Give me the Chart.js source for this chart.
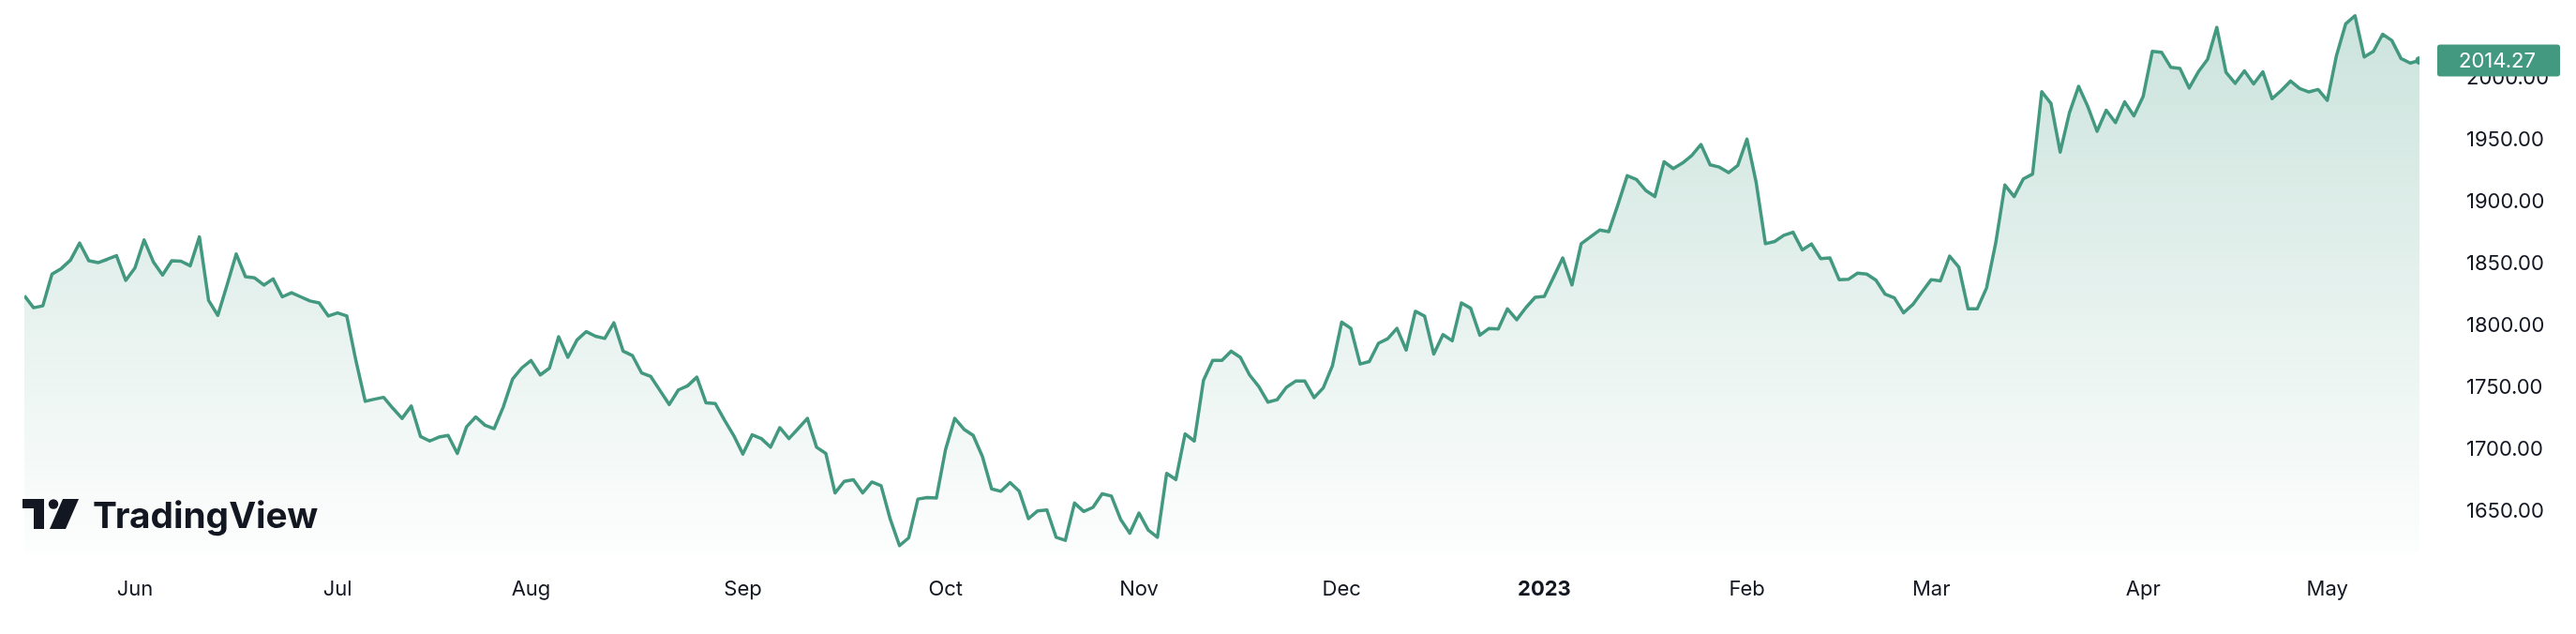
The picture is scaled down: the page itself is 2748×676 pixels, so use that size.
<!DOCTYPE html>
<html>
<head>
<meta charset="utf-8">
<title>Gold price chart</title>
<script src="https://cdn.jsdelivr.net/npm/chart.js@4.4.1/dist/chart.umd.min.js"></script>
<style>
    html, body { margin: 0; padding: 0; background: #ffffff; }
    #chart { display: block; }
</style>
</head>
<body>
<canvas id="chart" width="2748" height="676"></canvas>
<script>
// daily closes, one per trading day (16 May 2022 - 15 May 2023)
const prices = [
    1824.2, 1814.6, 1816.1, 1841.7, 1846.2, 1853.0, 1866.8, 1852.5, 1851.0, 1853.7,
    1856.7, 1836.7, 1846.7, 1869.3, 1851.7, 1841.0, 1852.5, 1852.2, 1848.5, 1871.8,
    1820.4, 1808.4, 1832.9, 1858.0, 1839.7, 1838.7, 1832.9, 1837.9, 1823.4, 1826.7,
    1823.4, 1820.1, 1818.4, 1807.9, 1810.4, 1807.9, 1771.5, 1739.0, 1740.7, 1742.2,
    1733.4, 1725.2, 1735.2, 1710.6, 1706.9, 1710.1, 1711.4, 1696.9, 1718.4, 1726.4,
    1719.7, 1716.9, 1734.7, 1757.0, 1766.0, 1772.0, 1760.3, 1765.8, 1791.1, 1774.5,
    1788.6, 1795.3, 1791.6, 1789.8, 1802.4, 1779.5, 1776.0, 1762.0, 1759.0, 1747.7,
    1736.4, 1748.2, 1751.5, 1758.5, 1737.7, 1737.2, 1723.9, 1711.4, 1696.4, 1711.9,
    1708.9, 1701.9, 1717.7, 1708.9, 1716.9, 1725.2, 1701.9, 1696.9, 1665.0, 1674.3,
    1675.6, 1665.0, 1673.8, 1670.8, 1643.7, 1622.4, 1628.7, 1660.0, 1661.3, 1660.8,
    1700.1, 1725.2, 1716.4, 1711.4, 1694.4, 1668.3, 1666.3, 1673.3, 1666.3, 1644.2,
    1650.5, 1651.2, 1629.2, 1626.7, 1656.8, 1650.0, 1653.3, 1664.3, 1662.5, 1643.7,
    1632.5, 1648.7, 1635.0, 1629.2, 1680.8, 1675.8, 1712.6, 1706.9, 1756.0, 1772.0,
    1772.0, 1779.5, 1774.5, 1760.3, 1751.0, 1738.3, 1740.3, 1750.3, 1755.3, 1755.3,
    1742.0, 1749.8, 1767.8, 1802.9, 1797.9, 1769.1, 1771.1, 1785.9, 1789.6, 1797.9,
    1780.4, 1811.7, 1807.9, 1777.1, 1792.9, 1787.9, 1818.5, 1814.2, 1792.4, 1797.9,
    1797.4, 1813.7, 1804.9, 1814.7, 1823.0, 1823.7, 1839.2, 1854.8, 1833.0, 1866.3,
    1871.8, 1877.3, 1876.1, 1898.1, 1921.2, 1918.2, 1909.4, 1904.4, 1932.5, 1927.0,
    1931.5, 1937.5, 1946.5, 1930.0, 1928.2, 1923.7, 1929.5, 1950.8, 1915.7, 1866.3,
    1868.1, 1873.1, 1875.6, 1861.3, 1866.1, 1854.3, 1854.8, 1837.3, 1837.5, 1842.5,
    1841.8, 1836.8, 1825.5, 1822.5, 1810.5, 1817.2, 1827.3, 1837.3, 1836.3, 1856.3,
    1847.3, 1813.7, 1813.7, 1830.5, 1866.8, 1913.7, 1904.4, 1918.7, 1922.5, 1989.1,
    1979.6, 1940.3, 1972.0, 1993.4, 1977.1, 1957.1, 1974.1, 1964.1, 1980.9, 1969.6,
    1985.1, 2021.7, 2021.0, 2008.9, 2007.9, 1992.1, 2005.2, 2015.2, 2041.0, 2004.7,
    1995.9, 2005.9, 1995.4, 2005.2, 1983.4, 1990.1, 1997.7, 1991.6, 1988.9, 1990.9,
    1982.1, 2018.5, 2044.0, 2050.5, 2017.2, 2021.7, 2035.5, 2030.5, 2015.9, 2012.2,
    2014.27
];

// first trading day of each month (bar index) and its label
const monthTicks = [12, 34, 55, 78, 100, 121, 143, 165, 187, 207, 230, 250];
const monthLabels = ['Jun', 'Jul', 'Aug', 'Sep', 'Oct', 'Nov', 'Dec', '2023', 'Feb', 'Mar', 'Apr', 'May'];

const priceTicks = [1650, 1700, 1750, 1800, 1850, 1900, 1950, 2000];

const GREEN = '#439980';
const TEXT = '#131722';
const FONT = 'Inter, "Noto Sans", sans-serif';

// Gradient under the line
function areaGradient(context) {
    const chart = context.chart;
    const area = chart.chartArea;
    if (!area) return 'rgba(67,153,128,0.15)';
    const g = chart.ctx.createLinearGradient(0, area.top, 0, area.bottom);
    g.addColorStop(0, 'rgba(67,153,128,0.28)');
    g.addColorStop(1, 'rgba(67,153,128,0.01)');
    return g;
}

// Last value badge on the price scale
const lastValuePlugin = {
    id: 'lastValue',
    afterDraw(chart) {
        const ctx = chart.ctx;
        const yScale = chart.scales.y;
        const last = prices[prices.length - 1];
        const y = yScale.getPixelForValue(last);
        const left = chart.chartArea.right + 19;
        ctx.save();
        ctx.fillStyle = GREEN;
        ctx.beginPath();
        ctx.roundRect(left, y - 17, 131, 34, 3);
        ctx.fill();
        ctx.fillStyle = '#ffffff';
        ctx.font = '22px ' + FONT;
        ctx.textAlign = 'left';
        ctx.textBaseline = 'middle';
        ctx.fillText(last.toFixed(2), chart.chartArea.right + 42, y + 1);
        ctx.restore();
    }
};

// TradingView watermark, bottom left
const logoPlugin = {
    id: 'logo',
    afterDatasetsDraw(chart) {
        const ctx = chart.ctx;
        ctx.save();
        ctx.fillStyle = TEXT;
        // icon
        ctx.fillRect(24, 532, 23, 10);
        ctx.fillRect(36, 532, 11, 32);
        ctx.beginPath();
        ctx.arc(57, 537.5, 5.2, 0, Math.PI * 2);
        ctx.fill();
        ctx.beginPath();
        ctx.moveTo(67, 532);
        ctx.lineTo(84, 532);
        ctx.lineTo(70, 564);
        ctx.lineTo(53, 564);
        ctx.closePath();
        ctx.fill();
        // word mark
        ctx.font = 'bold 40px ' + FONT;
        const w = ctx.measureText('TradingView').width;
        const size = 40 * 240 / w;
        ctx.font = 'bold ' + size.toFixed(1) + 'px ' + FONT;
        ctx.textAlign = 'left';
        ctx.textBaseline = 'alphabetic';
        ctx.fillText('TradingView', 99, 563);
        ctx.restore();
    }
};

const ctx = document.getElementById('chart').getContext('2d');

new Chart(ctx, {
    type: 'line',
    data: {
        datasets: [{
            data: prices.map((p, i) => ({ x: i, y: p })),
            borderColor: GREEN,
            borderWidth: 3.5,
            borderJoinStyle: 'round',
            tension: 0,
            fill: 'start',
            backgroundColor: areaGradient,
            pointRadius: c => c.dataIndex === prices.length - 1 ? 4.5 : 0,
            pointBackgroundColor: GREEN,
            pointBorderWidth: 0,
            pointHoverRadius: 0
        }]
    },
    options: {
        responsive: false,
        devicePixelRatio: 1,
        animation: false,
        layout: { padding: { left: 26, top: 0, right: 0, bottom: 0 } },
        plugins: {
            legend: { display: false },
            tooltip: { enabled: false }
        },
        scales: {
            x: {
                type: 'linear',
                min: 0,
                max: prices.length - 1,
                grid: { display: false },
                border: { display: false },
                afterBuildTicks: scale => {
                    scale.ticks = monthTicks.map(v => ({ value: v }));
                },
                afterFit: scale => {
                    scale.height = 86;
                    scale.paddingLeft = 0;
                    scale.paddingRight = 0;
                },
                ticks: {
                    autoSkip: false,
                    maxRotation: 0,
                    padding: 17,
                    color: TEXT,
                    font: c => ({
                        family: FONT,
                        size: 22,
                        weight: c.tick && c.tick.value === 165 ? 'bold' : 'normal'
                    }),
                    callback: value => {
                        const k = monthTicks.indexOf(value);
                        return k >= 0 ? monthLabels[k] : '';
                    }
                }
            },
            y: {
                position: 'right',
                min: 1616.17,
                max: 2059.77,
                grid: { display: false },
                border: { display: false },
                afterBuildTicks: scale => {
                    scale.ticks = priceTicks.map(v => ({ value: v }));
                },
                afterFit: scale => {
                    scale.width = 167;
                    scale.paddingTop = 0;
                    scale.paddingBottom = 0;
                },
                ticks: {
                    padding: 42,
                    color: TEXT,
                    font: { family: FONT, size: 22 },
                    callback: value => value.toFixed(2)
                }
            }
        }
    },
    plugins: [logoPlugin, lastValuePlugin]
});
</script>
</body>
</html>
